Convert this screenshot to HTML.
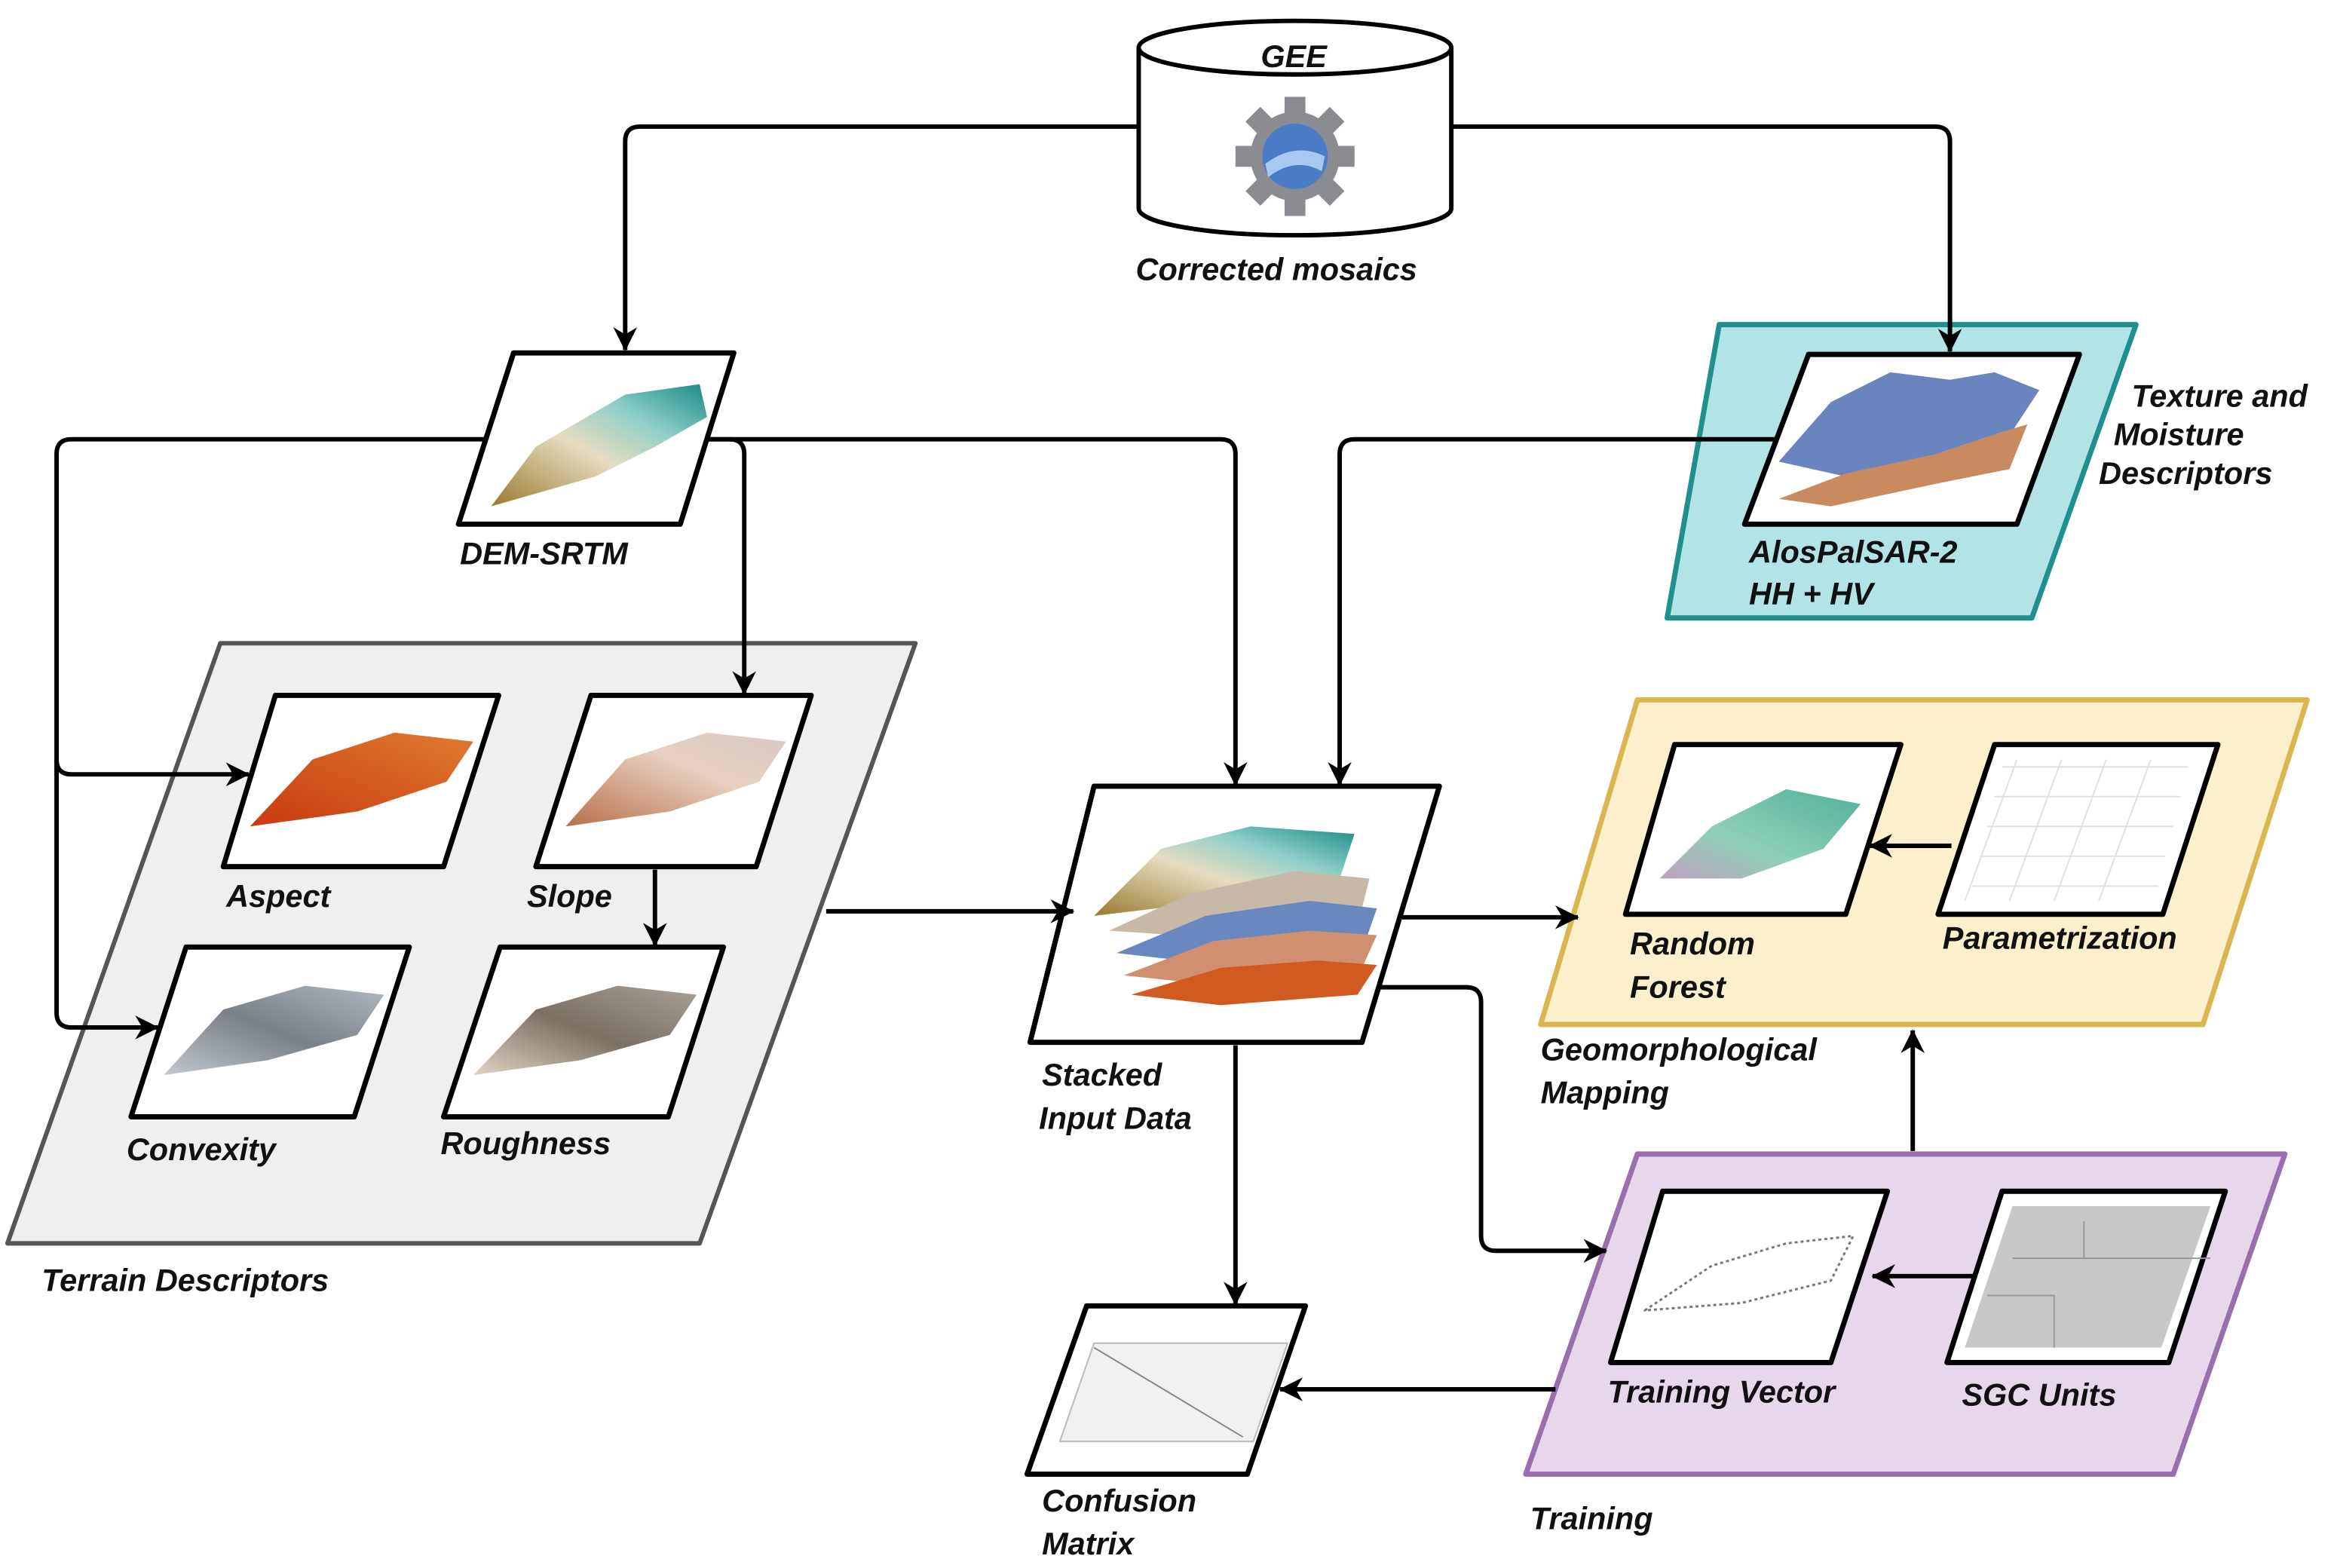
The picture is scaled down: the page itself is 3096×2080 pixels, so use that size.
<!DOCTYPE html>
<html><head><meta charset="utf-8"><style>
html,body{margin:0;padding:0;background:#fff}
svg{display:block}
text{font-family:"Liberation Sans",sans-serif;font-weight:bold;font-style:italic;font-size:21px;fill:#111}
</style></head><body>
<svg width="3096" height="2080" viewBox="0 0 1568 1053" preserveAspectRatio="none" xmlns="http://www.w3.org/2000/svg">
<defs>
<marker id="a" viewBox="0 0 10 10" refX="9.5" refY="5" markerWidth="20" markerHeight="16" orient="auto" markerUnits="userSpaceOnUse">
<path d="M0,0 L10,5 L0,10 L3,5 z" fill="#000"/></marker>
<linearGradient id="dem" x1="0" y1="1" x2="1" y2="0"><stop offset="0" stop-color="#9a7a30"/><stop offset=".45" stop-color="#e6dcc0"/><stop offset=".7" stop-color="#8fcfc8"/><stop offset="1" stop-color="#1a8a86"/></linearGradient>
<linearGradient id="asp" x1="0" y1="1" x2="1" y2="0"><stop offset="0" stop-color="#c83a10"/><stop offset="1" stop-color="#e07a30"/></linearGradient>
<linearGradient id="slo" x1="0" y1="1" x2="1" y2="0"><stop offset="0" stop-color="#b8704a"/><stop offset=".6" stop-color="#e8d0c0"/><stop offset="1" stop-color="#d8c8c8"/></linearGradient>
<linearGradient id="con" x1="0" y1="1" x2="1" y2="0"><stop offset="0" stop-color="#c0c8d0"/><stop offset=".5" stop-color="#7a8088"/><stop offset="1" stop-color="#b0b8c0"/></linearGradient>
<linearGradient id="rou" x1="0" y1="1" x2="1" y2="0"><stop offset="0" stop-color="#e0d4c4"/><stop offset=".5" stop-color="#7a7064"/><stop offset="1" stop-color="#a8a098"/></linearGradient>
<linearGradient id="rf" x1="0" y1="1" x2="1" y2="0"><stop offset="0" stop-color="#c0a0c0"/><stop offset=".4" stop-color="#90d0b8"/><stop offset="1" stop-color="#50b09a"/></linearGradient>
</defs>
<path d="M765,32 V140 A105,18 0 0 0 975,140 V32" fill="#fff" stroke="#000" stroke-width="3"/>
<ellipse cx="870" cy="32" rx="105" ry="18" fill="#fff" stroke="#000" stroke-width="3"/>
<text x="847" y="45">GEE</text>
<g transform="translate(870,105)">
<circle r="30" fill="#8a8c92"/>
<g fill="#8a8c92"><rect x="-7" y="-40" width="14" height="80"/><rect x="-40" y="-7" width="80" height="14"/><rect x="-7" y="-40" width="14" height="80" transform="rotate(45)"/><rect x="-7" y="-40" width="14" height="80" transform="rotate(-45)"/></g>
<circle r="22" fill="#4a7cc8"/><path d="M-20,5 Q0,-10 20,0 L18,10 Q0,0 -18,14z" fill="#a8c8f0"/>
</g>
<text x="763" y="188">Corrected mosaics</text>
<g stroke-linejoin="round">
<polygon points="148,432 615,432 470,835 5,835" fill="#efefef" stroke="#555" stroke-width="3"/>
<polygon points="1155,218 1435,218 1365,415 1120,415" fill="#b2e3e5" stroke="#1f8f90" stroke-width="3.5"/>
<polygon points="1100,470 1550,470 1480,688 1035,688" fill="#fcf0cc" stroke="#dbb550" stroke-width="3.5"/>
<polygon points="1100,775 1535,775 1460,990 1025,990" fill="#e6d8ea" stroke="#9a6fb0" stroke-width="3.5"/>
<polygon points="345,237 493,237 457,352 308,352" fill="#fff" stroke="#000" stroke-width="3.5"/>
<path d="M330,340 L360,300 L420,265 L470,258 L475,280 L440,300 L400,320 Z" fill="url(#dem)"/>
<polygon points="185,467 335,467 298,582 150,582" fill="#fff" stroke="#000" stroke-width="3.5"/>
<path d="M168,555 L210,510 L265,492 L318,498 L300,525 L240,545 Z" fill="url(#asp)"/>
<polygon points="397,467 545,467 508,582 360,582" fill="#fff" stroke="#000" stroke-width="3.5"/>
<path d="M380,555 L420,510 L475,492 L528,498 L510,525 L450,545 Z" fill="url(#slo)"/>
<polygon points="125,636 275,636 238,750 88,750" fill="#fff" stroke="#000" stroke-width="3.5"/>
<path d="M110,722 L150,678 L205,662 L258,668 L240,695 L180,712 Z" fill="url(#con)"/>
<polygon points="336,636 486,636 449,750 298,750" fill="#fff" stroke="#000" stroke-width="3.5"/>
<path d="M318,722 L360,678 L415,662 L468,668 L450,695 L390,712 Z" fill="url(#rou)"/>
<polygon points="735,528 967,528 915,700 692,700" fill="#fff" stroke="#000" stroke-width="3.5"/>
<path d="M735,615 L780,570 L840,555 L910,560 L900,590 L820,605 Z" fill="url(#dem)"/>
<path d="M745,625 L800,600 L870,585 L920,590 L915,610 L820,630 Z" fill="#c8b8a8"/>
<path d="M750,640 L810,615 L880,605 L925,610 L918,630 L820,648 Z" fill="#6a88c0"/>
<path d="M755,655 L815,632 L880,625 L925,628 L915,650 L820,662 Z" fill="#d09070"/>
<path d="M760,668 L820,650 L885,645 L925,648 L912,668 L820,675 Z" fill="#d05a20"/>
<polygon points="1215,238 1397,238 1355,352 1172,352" fill="#fff" stroke="#000" stroke-width="3.5"/>
<path d="M1195,310 L1230,270 L1270,250 L1310,255 L1340,250 L1370,262 L1345,300 L1300,310 L1240,320 Z" fill="#6a84c0"/>
<path d="M1195,335 L1240,318 L1300,305 L1345,290 L1362,285 L1350,315 L1300,325 L1230,340 Z" fill="#c98a60"/>
<polygon points="1125,500 1277,500 1240,614 1092,614" fill="#fff" stroke="#000" stroke-width="3.5"/>
<path d="M1115,590 L1150,555 L1200,530 L1250,540 L1225,570 L1170,590 Z" fill="url(#rf)"/>
<polygon points="1340,500 1490,500 1453,614 1302,614" fill="#fff" stroke="#000" stroke-width="3.5"/>
<polygon points="1117,800 1268,800 1230,915 1082,915" fill="#fff" stroke="#000" stroke-width="3.5"/>
<path d="M1105,880 L1150,850 L1200,835 L1245,830 L1230,860 L1170,875 Z" fill="none" stroke="#777" stroke-width="1.5" stroke-dasharray="2,2"/>
<polygon points="1345,800 1495,800 1457,915 1308,915" fill="#fff" stroke="#000" stroke-width="3.5"/>
<polygon points="1352,810 1485,810 1452,905 1320,905" fill="#c8c8c8"/>
<polygon points="730,877 877,877 838,990 690,990" fill="#fff" stroke="#000" stroke-width="3.5"/>
<polygon points="735,902 865,902 842,968 712,968" fill="#f0f0f0" stroke="#bbb"/>
<line x1="735" y1="905" x2="835" y2="965" stroke="#888"/>
</g>
<g stroke="#e0e0e0" stroke-width="1" fill="none"><path d="M1345,515 H1470 M1340,535 H1465 M1335,555 H1460 M1330,575 H1455 M1325,595 H1450 M1355,510 L1320,605 M1385,510 L1350,605 M1415,510 L1380,605 M1445,510 L1410,605"/></g>
<g stroke="#999" fill="none"><path d="M1352,845 H1485 M1335,870 H1380 V905 M1400,820 V845"/></g>
<g fill="none" stroke="#000" stroke-width="3">
<path d="M765,85 H430 Q420,85 420,95 V235" marker-end="url(#a)"/>
<path d="M975,85 H1300 Q1310,85 1310,95 V236" marker-end="url(#a)"/>
<path d="M327,295 H48 Q38,295 38,305 V680 Q38,690 48,690 H106" marker-end="url(#a)"/>
<path d="M38,510 Q38,520 48,520 H167" marker-end="url(#a)"/>
<path d="M476,295 H490 Q500,295 500,305 V466" marker-end="url(#a)"/>
<path d="M476,295 H820 Q830,295 830,305 V527" marker-end="url(#a)"/>
<path d="M1193,295 H910 Q900,295 900,305 V527" marker-end="url(#a)"/>
<path d="M440,584 V635" marker-end="url(#a)"/>
<path d="M555,612 H721" marker-end="url(#a)"/>
<path d="M942,616 H1060" marker-end="url(#a)"/>
<path d="M926,663 H985 Q995,663 995,673 V830 Q995,840 1005,840 H1079" marker-end="url(#a)"/>
<path d="M830,702 V876" marker-end="url(#a)"/>
<path d="M1285,773 V692" marker-end="url(#a)"/>
<path d="M1045,933 H860" marker-end="url(#a)"/>
<path d="M1327,857 H1258" marker-end="url(#a)"/>
<path d="M1311,568 H1256" marker-end="url(#a)"/>
</g>
<text x="309" y="379">DEM-SRTM</text>
<text x="152" y="609">Aspect</text>
<text x="354" y="609">Slope</text>
<text x="85" y="779">Convexity</text>
<text x="296" y="775">Roughness</text>
<text x="28" y="867">Terrain Descriptors</text>
<text x="700" y="729">Stacked</text>
<text x="698" y="758">Input Data</text>
<text x="1175" y="378">AlosPalSAR-2</text>
<text x="1175" y="406">HH + HV</text>
<text x="1432" y="273">Texture and</text>
<text x="1420" y="299">Moisture</text>
<text x="1410" y="325">Descriptors</text>
<text x="1095" y="641">Random</text>
<text x="1095" y="670">Forest</text>
<text x="1305" y="637">Parametrization</text>
<text x="1035" y="712">Geomorphological</text>
<text x="1035" y="741">Mapping</text>
<text x="1080" y="942">Training Vector</text>
<text x="1318" y="944">SGC Units</text>
<text x="1028" y="1027">Training</text>
<text x="700" y="1015">Confusion</text>
<text x="700" y="1044">Matrix</text>
</svg>
</body></html>
